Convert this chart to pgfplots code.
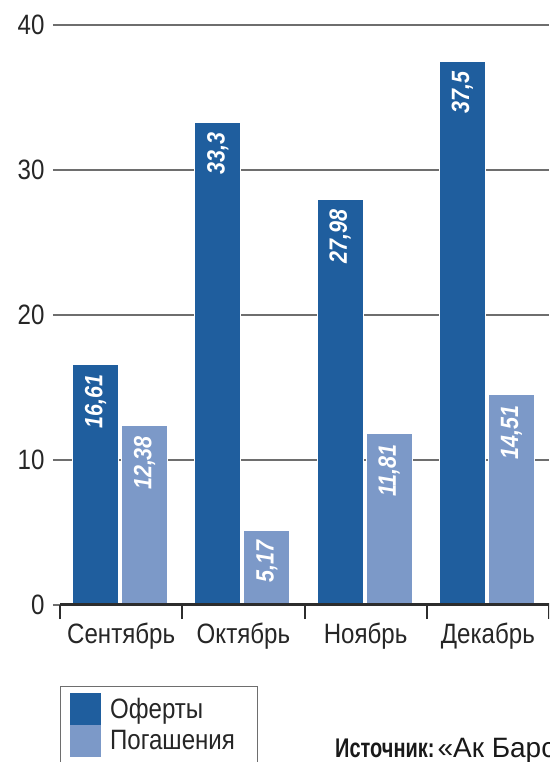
\documentclass[border=0pt]{standalone}
\usepackage{fontspec}
\setmainfont{Liberation Sans}[FakeStretch=0.86]
\newfontfamily\srcbold{Liberation Sans}[FakeStretch=0.74]
\newfontfamily\srcreg{Liberation Sans}
\usepackage{graphicx}
\usepackage{pgfplots}
\pgfplotsset{compat=1.18}
\definecolor{dark}{RGB}{31,94,158}
\definecolor{light}{RGB}{124,153,200}
\definecolor{gridc}{RGB}{110,110,110}
\definecolor{axc}{RGB}{45,45,45}
\begin{document}
\begin{tikzpicture}
\path[use as bounding box] (0,0) rectangle (549pt,762pt);
\clip (0,0) rectangle (549pt,762pt);
\begin{axis}[
  at={(60pt,157pt)}, anchor=south west,
  scale only axis, width=489pt, height=580pt,
  xmin=-0.5, xmax=3.5, ymin=0, ymax=40,
  /pgf/number format/assume math mode=true,
  axis x line*=bottom, axis y line*=left,
  y axis line style={draw=none},
  x axis line style={line width=3pt, color=axc},
  xtick={0,1,2,3}, xticklabels={Сентябрь,Октябрь,Ноябрь,Декабрь},
  xtick style={draw=none},
  extra x ticks={-0.5,0.5,1.5,2.5,3.5}, extra x tick labels={},
  extra x tick style={xtick style={draw=axc, line width=2pt}, major tick length=14pt, grid=none},
  xtick align=outside, ytick align=outside,
  major tick length=7pt,
  ytick={0,10,20,30,40},
  ytick style={draw=gridc, line width=1.8pt},
  ymajorgrids, grid style={line width=1.8pt, color=gridc},
  tick label style={font=\fontsize{28}{30}\selectfont, text=black!85},
  yticklabel style={xshift=-5pt},
  xticklabel style={yshift=-7pt},
  legend style={at={(axis description cs:0,-0.1397)}, anchor=north west, draw=gridc, line width=1.2pt,
    inner xsep=9pt, inner ysep=6pt, column sep=6pt, font=\fontsize{28}{30}\selectfont,
    nodes={inner sep=3.3pt}, text=black!85},
  legend cell align=left,
]
\addplot[ybar, bar width=46pt, bar shift=-25.5pt, fill=dark, draw=white, line width=1.2pt,
  point meta=explicit symbolic, nodes near coords={\rotatebox{90}{\pgfplotspointmeta}},
  nodes near coords style={anchor=north, xshift=-25.5pt, text=white, inner ysep=10pt,
    font=\bfseries\itshape\fontsize{25}{27}\selectfont},
  legend image code/.code={\fill[dark] (0pt,-15.5pt) rectangle (30pt,15.5pt);}]
  coordinates {(0,16.61)[16,61] (1,33.3)[33,3] (2,27.98)[27,98] (3,37.5)[37,5]};
\addlegendentry{Оферты}
\addplot[ybar, bar width=46pt, bar shift=23.5pt, fill=light, draw=white, line width=1.2pt,
  point meta=explicit symbolic, nodes near coords={\rotatebox{90}{\pgfplotspointmeta}},
  nodes near coords style={anchor=north, xshift=23.5pt, text=white, inner ysep=10pt,
    font=\bfseries\itshape\fontsize{25}{27}\selectfont},
  legend image code/.code={\fill[light] (0pt,-15.5pt) rectangle (30pt,15.5pt);}]
  coordinates {(0,12.38)[12,38] (1,5.17)[5,17] (2,11.81)[11,81] (3,14.51)[14,51]};
\addlegendentry{Погашения\hspace*{10pt}}
\draw[line width=3pt, axc] (axis cs:-0.5,0) -- (axis cs:3.6,0);
\end{axis}
\node[anchor=base west, inner sep=0pt, text=black!90] at (335pt,5pt) {{\srcbold\bfseries\fontsize{27}{29}\selectfont Источник:}\hspace{3pt}{\srcreg\fontsize{28}{30}\selectfont «Ак Барс Капитал»}};
\end{tikzpicture}
\end{document}
